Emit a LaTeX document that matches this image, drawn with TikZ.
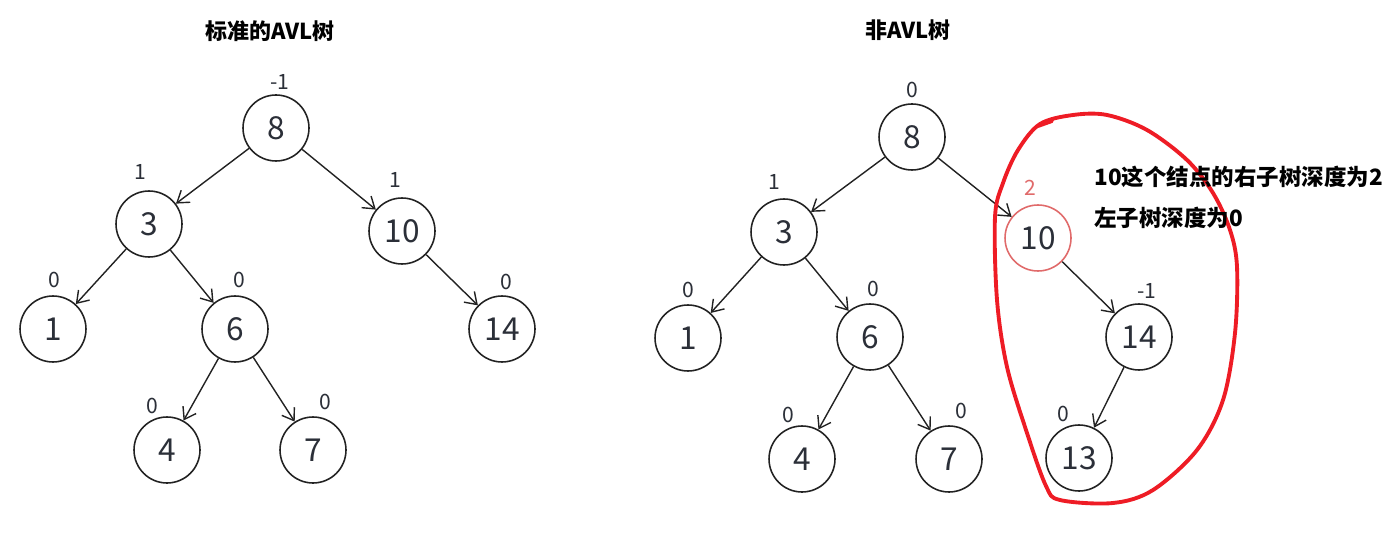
\documentclass[tikz,border=0pt]{standalone}
\usepackage{fontspec}
\setmainfont{Noto Sans CJK SC}
\usetikzlibrary{arrows.meta}
\definecolor{TreeInk}{HTML}{222222}
\definecolor{TreeText}{HTML}{2B2F38}
\definecolor{TreeMark}{HTML}{E06A6A}
\definecolor{TreeLoop}{HTML}{EE1C25}
\tikzset{
  treenode/.style={
    circle,
    draw=TreeInk,
    line width=0.9pt,
    minimum size=1.32cm,
    inner sep=0pt,
    text=TreeText,
    font=\fontsize{18}{18}\selectfont
  },
  treered/.style={treenode,draw=TreeMark},
  treebf/.style={inner sep=0pt,text=TreeText,font=\fontsize{12}{12}\selectfont},
  treearr/.style={-{Straight Barb[length=2.2mm,width=3mm]},line width=0.8pt,draw=TreeInk},
  treetitle/.style={font=\fontsize{12.5}{12.5}\selectfont\bfseries,inner sep=0pt},
  treenote/.style={font=\fontsize{12.8}{12.8}\selectfont\bfseries,anchor=west,inner sep=0pt},
}

\begin{document}
\begin{tikzpicture}[x=0.02cm,y=-0.02cm]
  \useasboundingbox (0,0) rectangle (1388,533);

  % left: balanced tree
  \node[treetitle] (ltitle) at (270,31) {标准的AVL树};
  \node[treenode] (l8) at (276,128) {8};
  \node[treenode] (l3) at (149,224) {3};
  \node[treenode] (l10) at (402,231) {10};
  \node[treenode] (l1) at (53,329) {1};
  \node[treenode] (l6) at (235,329) {6};
  \node[treenode] (l14) at (502,329) {14};
  \node[treenode] (l4) at (167,450) {4};
  \node[treenode] (l7) at (313,450) {7};

  \node[treebf] (lb8) at (280,82) {-1};
  \node[treebf] (lb3) at (140,172) {1};
  \node[treebf] (lb10) at (395,180) {1};
  \node[treebf] (lb1) at (54,280) {0};
  \node[treebf] (lb6) at (239,280) {0};
  \node[treebf] (lb14) at (506,282) {0};
  \node[treebf] (lb4) at (152,406) {0};
  \node[treebf] (lb7) at (325,402) {0};

  \draw[treearr] (l8) -- (l3);
  \draw[treearr] (l8) -- (l10);
  \draw[treearr] (l3) -- (l1);
  \draw[treearr] (l3) -- (l6);
  \draw[treearr] (l10) -- (l14);
  \draw[treearr] (l6) -- (l4);
  \draw[treearr] (l6) -- (l7);

  % right: unbalanced tree
  \node[treetitle] (rtitle) at (908,30) {非AVL树};
  \node[treenode] (r8) at (912,137) {8};
  \node[treenode] (r3) at (784,232) {3};
  \node[treered] (r10) at (1038,238) {10};
  \node[treenode] (r1) at (688,338) {1};
  \node[treenode] (r6) at (870,337) {6};
  \node[treenode] (r14) at (1139,337) {14};
  \node[treenode] (r4) at (802,459) {4};
  \node[treenode] (r7) at (949,459) {7};
  \node[treenode] (r13) at (1079,458) {13};

  \node[treebf] (rb8) at (912,90) {0};
  \node[treebf] (rb3) at (774,182) {1};
  \node[treebf,text=TreeMark] (rb10) at (1030,188) {2};
  \node[treebf] (rb1) at (688,290) {0};
  \node[treebf] (rb6) at (873,289) {0};
  \node[treebf] (rb14) at (1147,291) {-1};
  \node[treebf] (rb4) at (788,415) {0};
  \node[treebf] (rb7) at (961,411) {0};
  \node[treebf] (rb13) at (1063,414) {0};

  \draw[treearr] (r8) -- (r3);
  \draw[treearr] (r8) -- (r10);
  \draw[treearr] (r3) -- (r1);
  \draw[treearr] (r3) -- (r6);
  \draw[treearr] (r10) -- (r14);
  \draw[treearr] (r6) -- (r4);
  \draw[treearr] (r6) -- (r7);
  \draw[treearr] (r14) -- (r13);

  % hand-drawn loop and note
  \draw[TreeLoop,line width=2.2pt,line cap=round,line join=round]
    plot[smooth cycle,tension=0.55] coordinates {
      (1040,124) (1073,115) (1107,115) (1147,130) (1187,160) (1213,193)
      (1230,230) (1237,267) (1235,333) (1223,400) (1197,450) (1153,490)
      (1113,503) (1060,500) (1046,486) (1027,433) (1007,367) (997,300)
      (995,217) (1003,183) (1018,150)};
  \draw[TreeLoop,line width=2.2pt,line cap=round] (1038,126) -- (1052,121);

  \node[treenote] (note1) at (1094,177) {10这个结点的右子树深度为2};
  \node[treenote] (note2) at (1094,218) {左子树深度为0};
\end{tikzpicture}
\end{document}
